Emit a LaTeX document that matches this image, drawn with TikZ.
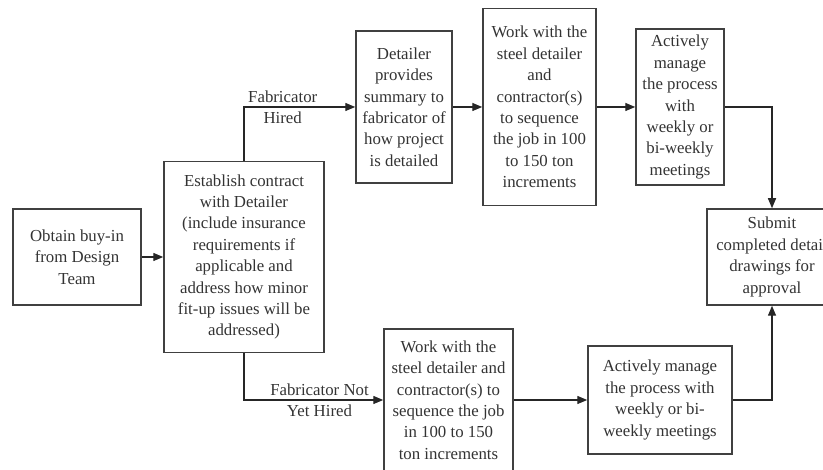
\documentclass[tikz,border=0pt]{standalone}
\usepackage{fontspec}
\setmainfont{Liberation Serif}
\usepackage{tikz}
\usetikzlibrary{arrows.meta, positioning}

\begin{document}
\begin{tikzpicture}[
  x=0.5pt, y=0.5pt,
  every node/.style={font=\fontsize{8.4}{10.7}\selectfont, text=black!80},
  box/.style={draw=black!75, line width=0.75pt, align=center, inner sep=0pt},
  lbl/.style={align=center, inner sep=1pt},
  arr/.style={-{Triangle[length=5pt, width=4pt]}, line width=0.7pt, black!85},
]
  \clip (0,0) rectangle (823,470);

  \node[box, minimum width=64pt, minimum height=48pt] (a) at (77,213)
    {Obtain buy-in\\from Design\\Team};
  \node[box, minimum width=80pt, minimum height=95.5pt] (b) at (244,213)
    {Establish contract\\with Detailer\\(include insurance\\requirements if\\applicable and\\address how minor\\fit-up issues will be\\addressed)};

  % fabricator hired
  \node[box, minimum width=48pt, minimum height=76pt] (c) at (404,363)
    {Detailer\\provides\\summary to\\fabricator of\\how project\\is detailed};
  \node[box, minimum width=56.5pt, minimum height=98.5pt] (d) at (539.5,363)
    {Work with the\\steel detailer\\and\\contractor(s)\\to sequence\\the job in 100\\to 150 ton\\increments};
  \node[box, minimum width=44pt, minimum height=78pt] (e) at (680,363)
    {Actively\\manage\\the process\\with\\weekly or\\bi-weekly\\meetings};

  \node[box, minimum width=65pt, minimum height=48pt] (f) at (772,213)
    {Submit\\completed detail\\drawings for\\approval};

  % fabricator not yet hired
  \node[box, minimum width=64.5pt, minimum height=71pt] (g) at (448.5,70)
    {Work with the\\steel detailer and\\contractor(s) to\\sequence the job\\in 100 to 150\\ton increments};
  \node[box, minimum width=72pt, minimum height=54pt] (h) at (660,70)
    {Actively manage\\the process with\\weekly or bi-\\weekly meetings};

  \draw[arr] (a.east) -- (b.west);
  \draw[arr] (b.north) |- node[lbl, pos=0.674] (hired) {Fabricator\\Hired} (c.west);
  \draw[arr] (c.east) -- (d.west);
  \draw[arr] (d.east) -- (e.west);
  \draw[arr] (e.east) -| (f.north);
  \draw[arr] (b.south) |- node[lbl, pos=0.771] (nothired) {Fabricator Not\\Yet Hired} (g.west);
  \draw[arr] (g.east) -- (h.west);
  \draw[arr] (h.east) -| (f.south);
\end{tikzpicture}
\end{document}
